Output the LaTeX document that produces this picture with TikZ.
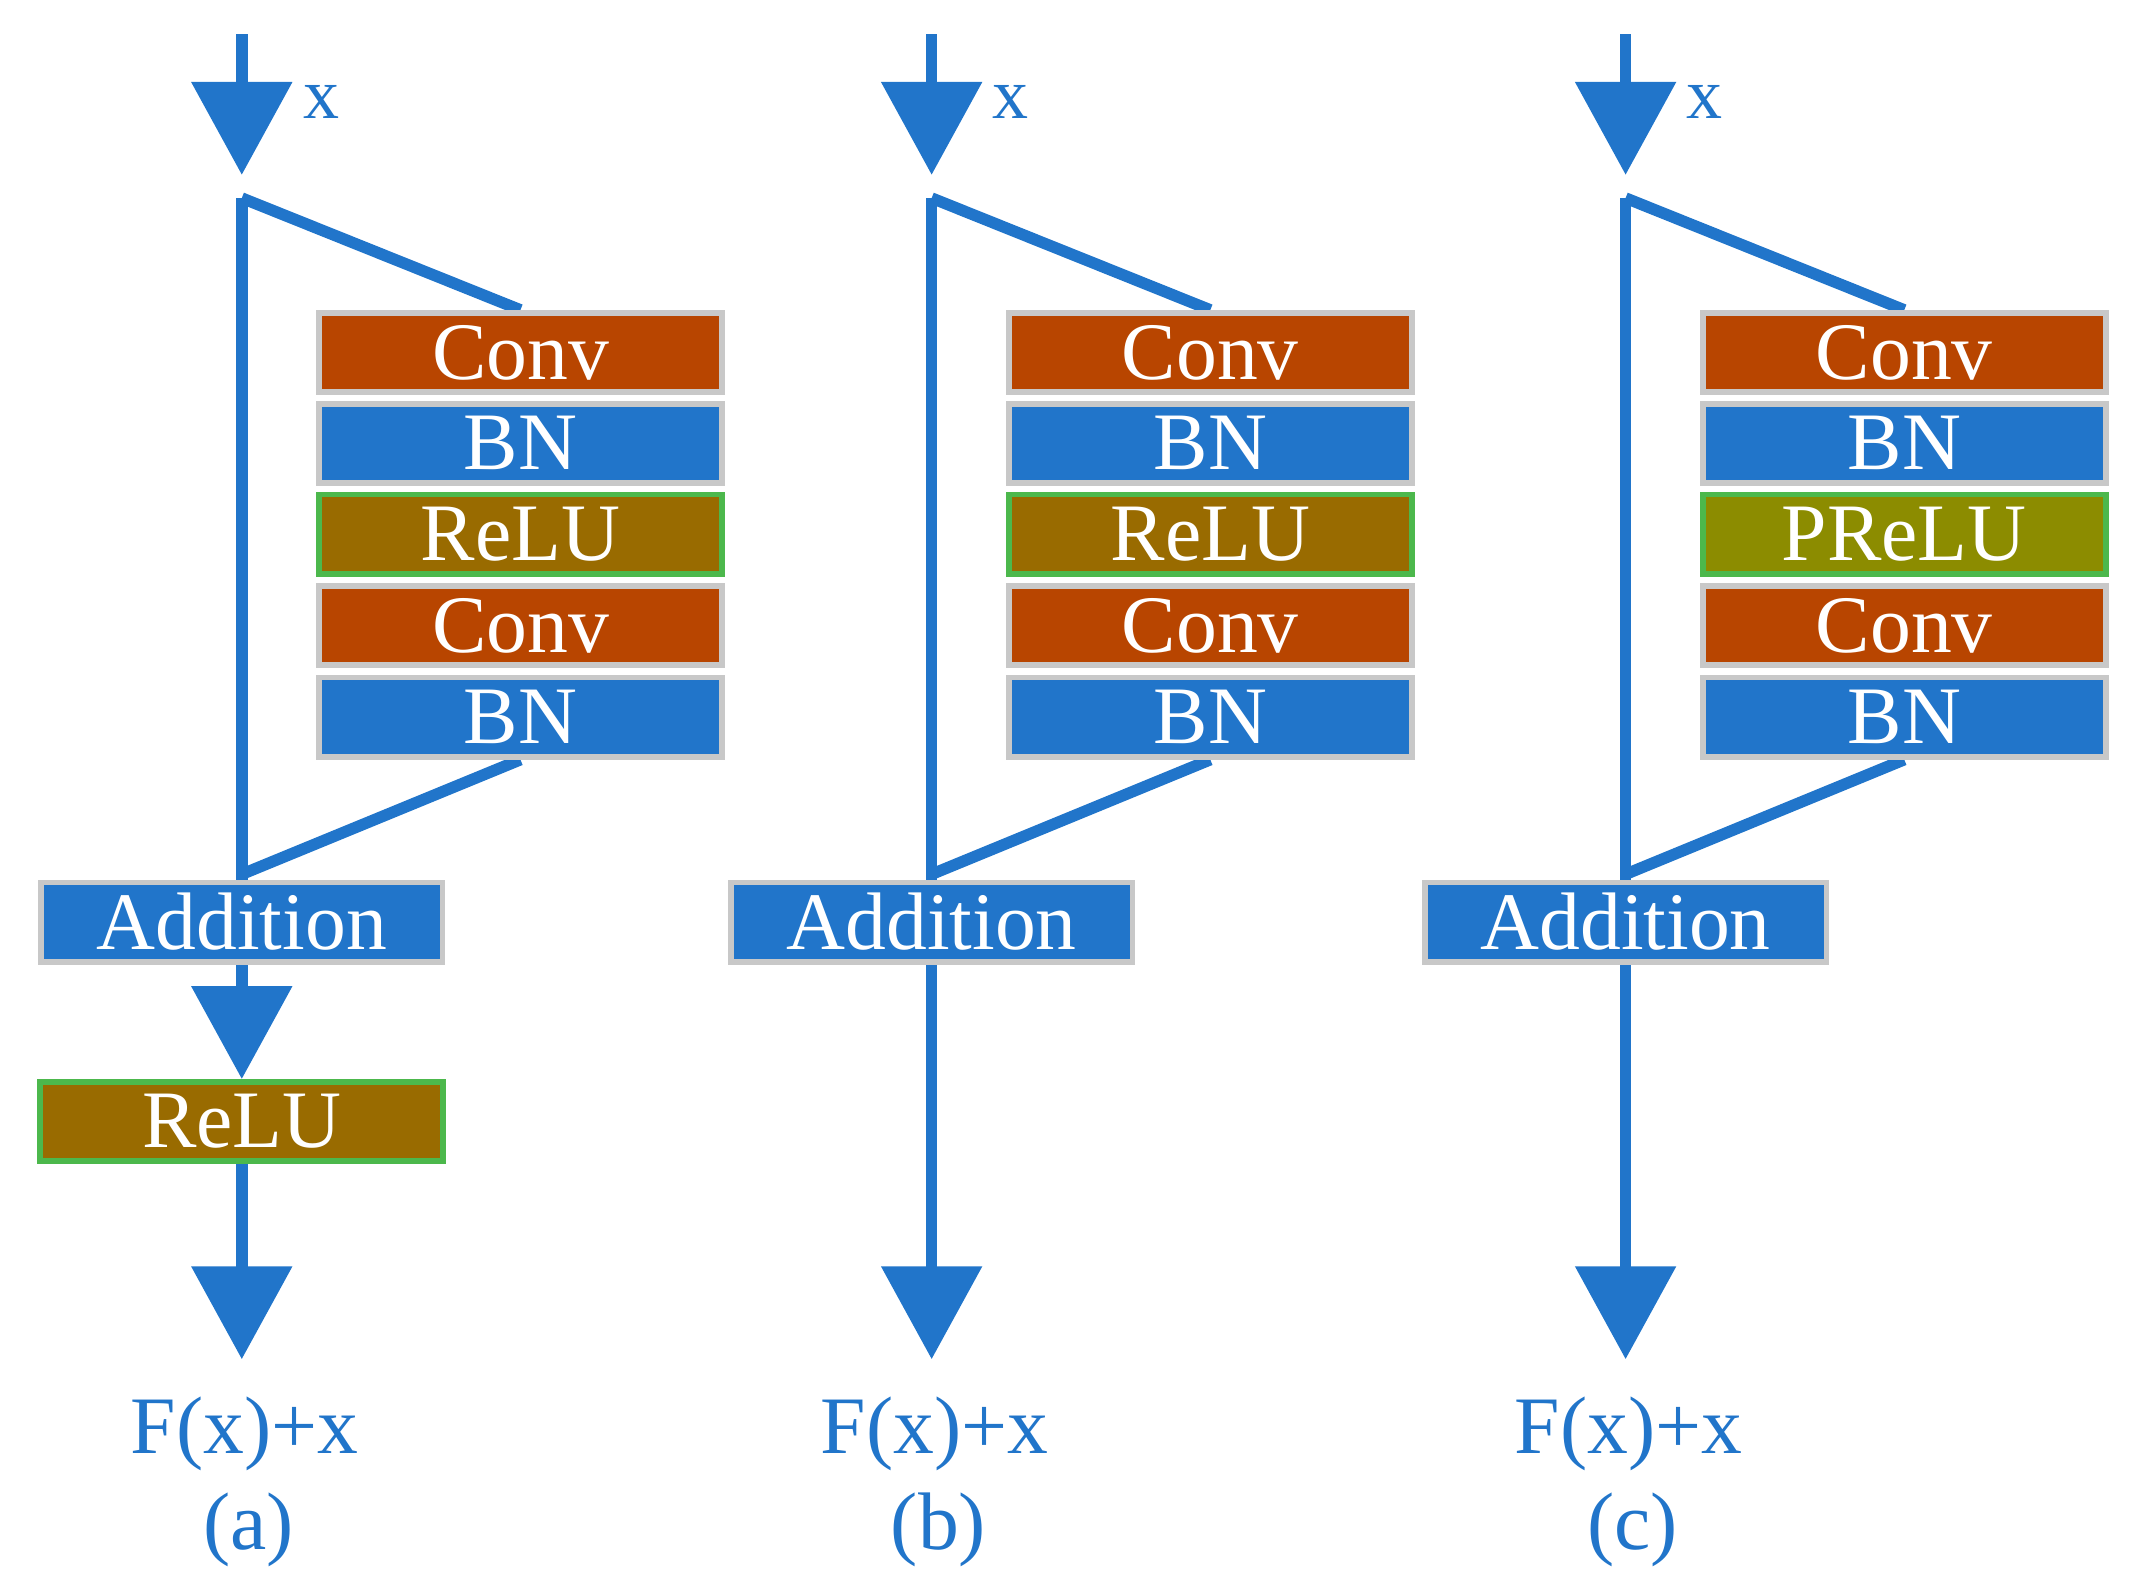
\documentclass[tikz,border=0pt]{standalone}
\usepackage{fontspec}
\setmainfont{Liberation Serif}
\usetikzlibrary{arrows.meta,backgrounds}
\definecolor{convc}{HTML}{B84500}
\definecolor{bnc}{HTML}{2175CA}
\definecolor{reluc}{HTML}{996B00}
\definecolor{preluc}{HTML}{8C8C00}
\definecolor{edgec}{HTML}{C8C8C8}
\begin{document}
\begin{tikzpicture}
[ auto,
block/.style ={rectangle, draw=edgec, line width=1.2pt, text=white,
 minimum width=2.95cm, minimum height=0.58cm, inner sep=0pt,
 font=\fontsize{17}{20}\selectfont},
conv/.style ={block, fill=convc},
bn/.style ={block, fill=bnc},
relu/.style ={block, fill=reluc, draw=green!60!black!70},
prelu/.style ={block, fill=preluc, draw=green!60!black!70},
flow/.style ={draw=bnc, line width=2.4pt},
tip/.style ={flow, -{Triangle[width=0.72cm,length=0.68cm]}},
lbl/.style ={text=bnc, font=\fontsize{17}{20}\selectfont},
] 
\useasboundingbox (0,0) rectangle (15.6,11.54);
\foreach \c/\xo/\act/\sty in {a/0/ReLU/relu, b/5.05/ReLU/relu, c/10.13/PReLU/prelu}
{
% block stack
\node (conv1\c) [conv] at (3.81+\xo,8.96) {Conv};
\node (bn1\c)   [bn]   at (3.81+\xo,8.295) {BN};
\node (act\c)   [\sty] at (3.81+\xo,7.63) {\act};
\node (conv2\c) [conv] at (3.81+\xo,6.96) {Conv};
\node (bn2\c)   [bn]   at (3.81+\xo,6.29) {BN};
\node (add\c)   [bn, minimum width=2.94cm] at (1.77+\xo,4.79) {Addition};
% coordinates on the main line
\coordinate (in\c) at (1.77+\xo,11.29);
\coordinate (top\c) at (1.77+\xo,10.26);
\coordinate (split\c) at (1.77+\xo,10.09);
\coordinate (join\c) at (1.77+\xo,5.14);
\coordinate (out\c) at (1.77+\xo,1.59);
\node (x\c) [lbl, font=\fontsize{15}{18}\selectfont] at (2.35+\xo,10.79) {x};
\node (res\c) [lbl] at (1.79+\xo,1.04) {F(x)+x};
\node (cap\c) [lbl] at (1.82+\xo,0.34) {(\c)};
\begin{scope}[on background layer]
\draw[tip] (in\c) -- (top\c);
\draw[flow, line join=round] (join\c) -- (bn2\c.south) ;
\draw[flow] (split\c) -- (conv1\c.north);
\end{scope}
}
\node (relu2a) [relu] at (1.77,3.33) {ReLU};
\begin{scope}[on background layer]
\draw[flow] (splita) -- (adda);
\draw[tip] (adda) -- (relu2a.north);
\draw[tip] (relu2a) -- (outa);
\draw[tip] (splitb) -- (outb);
\draw[tip] (splitc) -- (outc);
\end{scope}
\end{tikzpicture}
\end{document}
